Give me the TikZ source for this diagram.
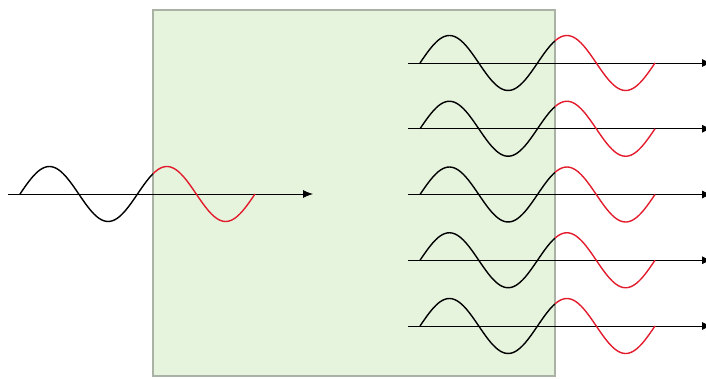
\documentclass[tikz,border=0pt]{standalone}
\usetikzlibrary{arrows.meta}
\definecolor{slabgreen}{RGB}{230,244,222}
\definecolor{slabedge}{RGB}{170,178,165}
\definecolor{wavered}{RGB}{226,28,44}

\begin{document}
\begin{tikzpicture}[x=1pt, y=-1pt]
  \useasboundingbox (0,0) rectangle (706,379);
  \draw[slabedge, fill=slabgreen, line width=1.3pt] (153,10) rectangle (555,376);
  % incoming wave
  \coordinate (inStart) at (8,194);
  \coordinate (inEnd) at (313,194);
  \draw[-{Latex[length=10pt, width=8pt]}, line width=0.8pt] (inStart) -- (inEnd);
  \draw[line width=1.4pt] plot[domain=20:153, samples=60, smooth] (\x, {194-27.5*sin((\x-20)/117.5*360)});
  \draw[wavered, line width=1.4pt] plot[domain=153:255, samples=50, smooth] (\x, {194-27.5*sin((\x-20)/117.5*360)});
  % outgoing waves
  \foreach \i in {0,...,4} {
    \pgfmathsetmacro{\yy}{63+65.75*\i}
    \coordinate (outStart\i) at (408,\yy);
    \coordinate (outEnd\i) at (712,\yy);
    \draw[-{Latex[length=10pt, width=8pt]}, line width=0.8pt] (outStart\i) -- (outEnd\i);
    \draw[line width=1.4pt] plot[domain=420:555, samples=60, smooth] (\x, {\yy-27.5*sin((\x-420)/117.5*360)});
    \draw[wavered, line width=1.4pt] plot[domain=555:655, samples=50, smooth] (\x, {\yy-27.5*sin((\x-420)/117.5*360)});
  }
\end{tikzpicture}
\end{document}
